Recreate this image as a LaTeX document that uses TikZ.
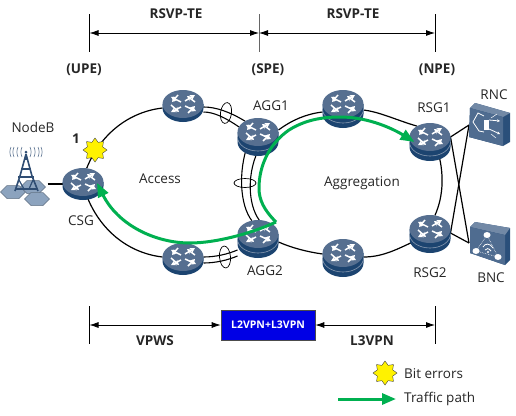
\documentclass[tikz,border=0pt]{standalone}
\usepackage{fontspec}
\setmainfont{Open Sans}
\usetikzlibrary{arrows.meta,shapes.geometric,calc}
\definecolor{rtop}{HTML}{566F90}
\definecolor{rside}{HTML}{1C4470}
\definecolor{hexc}{HTML}{8CA3BE}
\definecolor{twr}{HTML}{2F4D73}
\definecolor{boxf}{HTML}{4F6C90}
\definecolor{boxs}{HTML}{2A4F7A}
\definecolor{gpath}{HTML}{00B050}
\tikzset{
 x=1pt,y=-1pt,
 anchorpt/.style={ellipse,minimum width=41pt,minimum height=28pt,inner sep=0pt,outer sep=0pt},
 devanchor/.style={rectangle,minimum width=38pt,minimum height=38pt,inner sep=0pt,outer sep=0pt},
 lab/.style={font=\fontsize{13.5}{15}\selectfont,text=black!85,inner sep=0pt},
 blab/.style={font=\fontsize{13.5}{15}\selectfont\bfseries,text=black!85,inner sep=0pt},
 ring/.style={draw=black,line width=1.2pt},
 dim/.style={draw=black,line width=0.8pt,{Latex[length=9pt,width=6pt]}-{Latex[length=9pt,width=6pt]}},
 tick/.style={draw=black,line width=0.8pt},
 trunk/.style={draw=black,line width=1.1pt},
 traffic/.style={draw=gpath,line width=3pt,-{Stealth[length=14pt,width=11pt,inset=0pt]}},
 biterr/.style={star,star points=8,star point ratio=1.45,minimum size=24pt,inner sep=0pt,fill=yellow,draw=black!75,line width=0.4pt},
 arr/.style={draw=white,line width=1.5pt,-{Stealth[length=5pt,width=5.5pt]}},
 pics/rface/.style={code={
   \fill[rtop] (0,0) ellipse [x radius=20.5pt,y radius=14pt];
   \draw[arr] (-2,-2) -- (-12,-7);
   \draw[arr] (-5,-9) -- (-11,-2);
   \draw[arr] (2,-3) -- (12,-9);
   \draw[arr] (12,-2) -- (4,-8);
   \draw[arr] (-2,3) -- (-12,8);
   \draw[arr] (-12,1) -- (-4,8);
   \draw[arr] (2,2) -- (13,7);
   \draw[arr] (5,9) -- (12,2);
 }},
 pics/rone/.style={code={
   \fill[rside] (-20.5,0) -- (-20.5,4) arc[start angle=180,end angle=360,x radius=20.5pt,y radius=14pt] -- (20.5,0) -- cycle;
   \pic {rface};
 }},
 pics/rtwo/.style={code={
   \fill[rside] (-20.5,0) -- (-20.5,10) arc[start angle=180,end angle=360,x radius=20.5pt,y radius=14pt] -- (20.5,0) -- cycle;
   \draw[rtop!70!white,line width=0.6pt] (-20.5,5) arc[start angle=180,end angle=360,x radius=20.5pt,y radius=14pt];
   \pic {rface};
 }},
}
\begin{document}
\begin{tikzpicture}
\useasboundingbox (0,0) rectangle (516,415);
% anchors of the devices
\node[anchorpt] (csg) at (83,182) {};
\node[anchorpt] (acct) at (183,104) {};
\node[anchorpt] (accb) at (183,257) {};
\node[anchorpt] (agg1) at (258,132) {};
\node[anchorpt] (agg2) at (258,234) {};
\node[anchorpt] (aggt) at (343,104) {};
\node[anchorpt] (aggb) at (343,253) {};
\node[anchorpt] (rsg1) at (430,137) {};
\node[anchorpt] (rsg2) at (430,229) {};
\node[devanchor] (rnc) at (488,125) {};
\node[devanchor] (bnc) at (488,243) {};
\node[inner sep=0pt,minimum size=1pt] (nodeb) at (47,184) {};
% access ring
\draw[ring] (csg.75) .. controls (100,135) and (128,112) .. ($(acct.west)+(0,4)$);
\draw[ring] (csg.285) .. controls (100,230) and (128,253) .. (accb.west);
\draw[trunk] ($(acct.east)+(0,3)$) .. controls (216,107) and (230,112) .. (agg1.140);
\draw[trunk] ($(acct.east)+(0,8)$) .. controls (214,112) and (226,118) .. (agg1.165);
\draw[trunk] (accb.east) .. controls (216,257) and (228,254) .. ($(agg2.west)+(0,16)$);
\draw[trunk] ($(accb.east)+(0,6)$) .. controls (216,263) and (228,260) .. ($(agg2.west)+(0,22)$);
\draw[trunk] (agg1.230) .. controls (238,172) and (240,205) .. (agg2.115);
\draw[trunk] (agg1.280) .. controls (246,172) and (248,205) .. (agg2.85);
% aggregation ring
\draw[ring] ($(agg1.east)+(0,-2)$) .. controls (292,120) and (306,114) .. ($(aggt.west)+(0,8)$);
\draw[ring] ($(aggt.east)+(0,6)$) .. controls (380,112) and (396,120) .. (rsg1.140);
\draw[ring] (rsg1.300) .. controls (444,172) and (444,195) .. (rsg2.70);
\draw[ring] (rsg2.220) .. controls (396,250) and (382,257) .. ($(aggb.east)+(0,4)$);
\draw[ring] ($(aggb.west)+(0,1)$) .. controls (308,252) and (292,248) .. ($(agg2.east)+(0,8)$);
% cross links
\draw[ring] (rsg1.east) coordinate (r1o) -- (rnc.west);
\draw[ring] (r1o) -- (bnc.west);
\draw[ring] ($(rsg2.east)+(0,4)$) coordinate (r2o) -- (rnc.west);
\draw[ring] (r2o) -- (bnc.west);
\draw[ring,line width=1.6pt] (nodeb) -- ($(csg.west)+(0,2)$);
% link-bundle rings
\draw[black,line width=0.7pt,rotate around={-8:(226,113)}] (226,113) ellipse [x radius=5.5pt,y radius=10.5pt];
\draw[black,line width=0.7pt,rotate around={5:(225,257)}] (225,257) ellipse [x radius=5.5pt,y radius=11pt];
\draw[black,line width=0.7pt] (245,183) ellipse [x radius=11pt,y radius=4.5pt];
% routers
\pic at (csg) {rone};
\pic at (acct) {rone};
\pic at (accb) {rone};
\pic at (agg1) {rtwo};
\pic at (agg2) {rtwo};
\pic at (aggt) {rtwo};
\pic at (aggb) {rtwo};
\pic at (rsg1) {rtwo};
\pic at (rsg2) {rtwo};
% NodeB
\foreach \cx/\cy in {13/192, 33/187, 37/199}{
 \draw[hexc!70!black,fill=hexc,line width=0.5pt] (\cx-12.5,\cy) -- (\cx-6,\cy-6.5) -- (\cx+6,\cy-6.5) -- (\cx+12.5,\cy) -- (\cx+6,\cy+6.5) -- (\cx-6,\cy+6.5) -- cycle;
}
\begin{scope}[draw=twr,line width=1.4pt]
 \draw[line width=1.6pt] (26,154) -- (26,160);
 \draw[line width=1.6pt] (26,154) -- (20,176) -- (15,191);
 \draw[line width=1.6pt] (26,154) -- (32,176) -- (38,191);
 \draw[line width=2.2pt] (18,177) -- (34,177);
 \draw[line width=1.3pt] (21,169) -- (31,169);
 \draw[line width=2.2pt] (15,189) -- (38,189);
 \draw[line width=1.2pt] (19,180) -- (24,189) (33,180) -- (29,189);
\end{scope}
\fill[twr] (26,152) circle (1.5pt);
\begin{scope}[draw=twr!80,line width=0.6pt]
 \foreach \r in {4,8,12,15}{
  \draw (26-\r,147) .. controls (26-\r-1.5,151) and (26-\r-1.5,153) .. (26-\r,157);
  \draw (26+\r,147) .. controls (26+\r+1.5,151) and (26+\r+1.5,153) .. (26+\r,157);
 }
\end{scope}
% RNC box
\fill[boxs] (470,108) -- (475,103) -- (510,113) -- (510,142) -- (503,146) -- (469,137) -- cycle;
\fill[boxf!80!white] (470,108) -- (475,103) -- (510,113) -- (503,117) -- cycle;
\fill[boxf] (470,108) -- (503,117) -- (503,146) -- (469,137) -- cycle;
\begin{scope}[draw=white,line width=0.8pt]
 \draw (473,122) -- (478,113) -- (484,116) (473,122) -- (479,131) -- (484,132);
 \draw[line width=0.5pt] (491,118) -- (497,114) (491,134) -- (496,138);
 \draw[-{Stealth[length=3pt,width=3pt]}] (489,120) -- (500,121);
 \draw[-{Stealth[length=3pt,width=3pt]}] (489,129) -- (500,134);
 \fill[white] (484,120) rectangle (489,130);
\end{scope}
% BNC box
\fill[boxs] (470,227) -- (475,222) -- (510,228) -- (510,260) -- (505,265) -- (470,253) -- cycle;
\fill[boxf!80!white] (470,227) -- (475,222) -- (510,228) -- (505,235) -- cycle;
\fill[boxf] (470,227) -- (505,235) -- (505,265) -- (470,253) -- cycle;
\draw[white,line width=0.6pt,densely dotted] (487,235) -- (476,251) -- (498,257) -- cycle;
\fill[white] (487,235) ellipse [x radius=3.5pt,y radius=3pt] (476,251) ellipse [x radius=3.5pt,y radius=3pt] (498,257) ellipse [x radius=3.5pt,y radius=3pt];
\draw[white,line width=0.8pt] (483,247) .. controls (485,243) and (490,243) .. (493,248) (485,250) .. controls (486,248) and (489,248) .. (491,251);
\fill[white] (488,252) circle (1.2pt);
% traffic path
\coordinate (turn) at (276,222);
\draw[traffic] (turn) .. controls (264,210) and (259,200) .. (259,188) .. controls (259,165) and (270,143) .. (289,130) .. controls (305,120) and (322,117) .. (340,117) .. controls (370,117) and (395,130) .. ($(rsg1.west)+(5,5)$);
\draw[traffic] (turn) .. controls (250,234) and (215,243) .. (190,243) .. controls (155,243) and (118,225) .. ($(csg.east)+(-6.5,1)$);
% star
\node[biterr] (fault) at (95,150) {};
% labels
\node[lab] (tnodeb) at (33,127) {NodeB};
\node[blab] (tone) at (76,139) {1};
\node[lab] (tcsg) at (81,221) {CSG};
\node[lab] (tacc) at (160,179) {Access};
\node[lab] (tagg1) at (271,106) {AGG1};
\node[lab] (tagg2) at (265,271) {AGG2};
\node[lab] (taggr) at (362,183) {Aggregation};
\node[lab] (trsg1) at (434,108) {RSG1};
\node[lab] (trsg2) at (430,273) {RSG2};
\node[lab] (trnc) at (494,95) {RNC};
\node[lab] (tbnc) at (491,278) {BNC};
% top dimensions
\coordinate (u1) at (89.5,14); \coordinate (u2) at (89.5,52);
\coordinate (s1) at (259,14); \coordinate (s2) at (259,52);
\coordinate (n1) at (435,14); \coordinate (n2) at (435,52);
\draw[tick] (u1) -- (u2);
\draw[tick,draw=black!60] (s1) -- (s2);
\draw[tick] (n1) -- (n2);
\path (u1) -- (u2) coordinate[midway] (um);
\path (s1) -- (s2) coordinate[midway] (sm);
\path (n1) -- (n2) coordinate[midway] (nm);
\draw[dim] (um) -- (sm);
\draw[dim] (sm) -- (nm);
\node[blab] (rsvpa) at (176,14) {RSVP-TE};
\node[blab] (rsvpb) at (353,14) {RSVP-TE};
\node[blab] (tupe) at (84,70) {(UPE)};
\node[blab] (tspe) at (268,70) {(SPE)};
\node[blab] (tnpe) at (437,70) {(NPE)};
% bottom dimensions
\node[draw=black!70,fill=blue!90!black,text=white,font=\fontsize{10.5}{12}\selectfont\bfseries,minimum width=94pt,minimum height=30pt,inner sep=0pt,line width=0.6pt] (vpnbox) at (268,325) {L2VPN+L3VPN};
\coordinate (a1) at (89.5,306); \coordinate (a2) at (89.5,344);
\coordinate (b1) at (435,306); \coordinate (b2) at (435,344);
\draw[tick] (a1) -- (a2);
\draw[tick] (b1) -- (b2);
\path (a1) -- (a2) coordinate[midway] (am);
\path (b1) -- (b2) coordinate[midway] (bm);
\draw[dim] (am) -- (vpnbox.west);
\draw[dim] (vpnbox.east) -- (bm);
\node[blab] (tvpws) at (155,341) {VPWS};
\node[blab] (tl3) at (372,341) {L3VPN};
% legend
\node[biterr] (legstar) at (385,373) {};
\node[lab,anchor=west] (tbit) at (404,374) {Bit errors};
\coordinate (lega) at (338,399);
\coordinate (legb) at (396,399);
\draw[traffic] (lega) -- (legb);
\node[lab,anchor=west] (ttraffic) at (404,399) {Traffic path};
\end{tikzpicture}
\end{document}
